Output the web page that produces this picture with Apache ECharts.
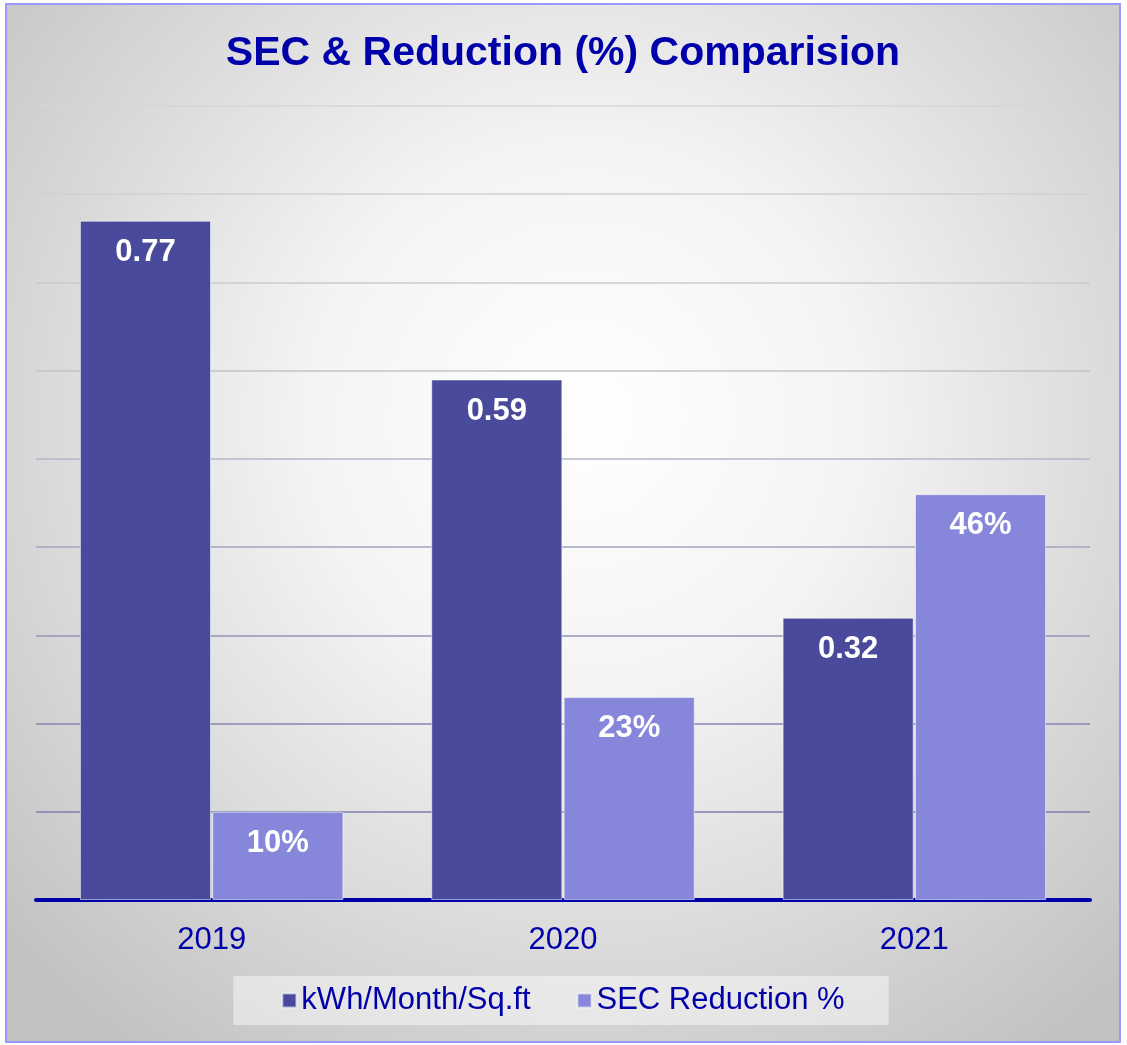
<!DOCTYPE html>
<html>
<head>
<meta charset="utf-8">
<script src="https://cdn.jsdelivr.net/npm/echarts@6/dist/echarts.min.js"></script>
<style>
  body { margin: 0; background: #ffffff; }
  #wrap {
    position: absolute;
    left: 5px;
    top: 3px;
    width: 1112px;
    height: 1036px;
    border: 2px solid #9999ff;
  }
  #chart { width: 100%; height: 100%; }
</style>
</head>
<body>
<div id="wrap"><div id="chart"></div></div>
<script>
const years = ['2019', '2020', '2021']
const secValues = [0.77, 0.59, 0.32]
const reductionValues = [0.10, 0.23, 0.46]
const seriesNames = ['kWh/Month/Sq.ft', 'SEC Reduction %']

const chart = echarts.init(document.getElementById('chart'))
const font = '"Liberation Sans", Arial, sans-serif'
const navy = '#0000aa'

const option = {
  backgroundColor: new echarts.graphic.RadialGradient(0.52, 0.4, 0.75, [
    { offset: 0, color: '#ffffff' },
    { offset: 0.35, color: '#f4f4f4' },
    { offset: 1, color: '#c2c2c2' }
  ]),
  textStyle: { fontFamily: font },
  title: {
    text: 'SEC & Reduction (%) Comparision',
    left: 'center',
    top: 23,
    textStyle: {
      fontFamily: font,
      fontSize: 41,
      fontWeight: 'bold',
      color: navy
    }
  },
  legend: {
    bottom: 16,
    left: 'center',
    icon: 'rect',
    itemWidth: 14,
    itemHeight: 14,
    itemGap: 46,
    backgroundColor: 'rgba(255,255,255,0.45)',
    padding: [9, 44, 9, 48],
    textStyle: {
      fontFamily: font,
      fontSize: 31,
      color: navy
    },
    data: seriesNames
  },
  grid: {
    left: 29,
    right: 29,
    top: 101,
    bottom: 141
  },
  xAxis: {
    type: 'category',
    data: years,
    axisTick: { show: false },
    axisLine: {
      lineStyle: { color: navy, width: 4 }
    },
    axisLabel: {
      margin: 25,
      fontFamily: font,
      fontSize: 31,
      color: navy
    }
  },
  yAxis: {
    type: 'value',
    min: 0,
    max: 0.9,
    interval: 0.1,
    axisLabel: { show: false },
    axisLine: { show: false },
    axisTick: { show: false },
    splitLine: {
      lineStyle: {
        width: 1.5,
        color: ['#7a7aaa', '#7e7eac', '#8686b0', '#9494b8', '#a4a4c0',
                '#b4b4c8', '#c2c2cc', '#cacad0', '#d0d0d4', '#d6d6d6']
      }
    }
  },
  series: [
    {
      name: seriesNames[0],
      type: 'bar',
      data: secValues,
      barGap: '1%',
      barCategoryGap: '25%',
      itemStyle: {
        color: '#4a4a9c',
        borderColor: 'rgba(255,255,255,0.55)',
        borderWidth: 1
      },
      label: {
        show: true,
        position: 'insideTop',
        distance: 16,
        fontFamily: font,
        fontSize: 31,
        fontWeight: 'bold',
        color: '#ffffff',
        formatter: p => p.value.toFixed(2)
      }
    },
    {
      name: seriesNames[1],
      type: 'bar',
      data: reductionValues,
      itemStyle: {
        color: '#8686da',
        borderColor: 'rgba(255,255,255,0.55)',
        borderWidth: 1
      },
      label: {
        show: true,
        position: 'insideTop',
        distance: 16,
        fontFamily: font,
        fontSize: 31,
        fontWeight: 'bold',
        color: '#ffffff',
        formatter: p => Math.round(p.value * 100) + '%'
      }
    }
  ]
}

chart.setOption(option)
window.addEventListener('resize', () => chart.resize())
</script>
</body>
</html>
